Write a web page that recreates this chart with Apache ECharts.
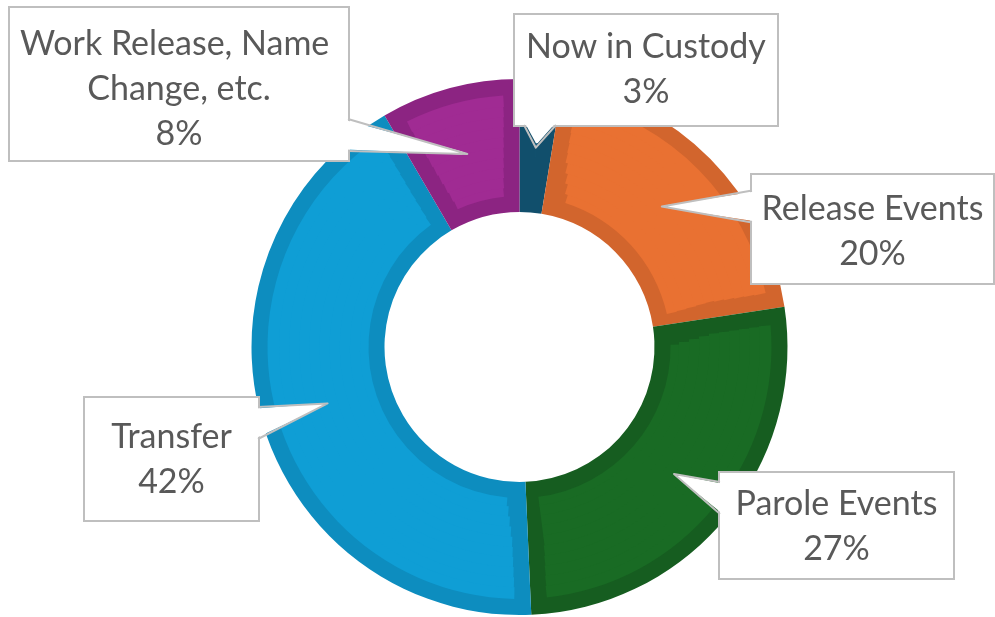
<!DOCTYPE html>
<html><head><meta charset="utf-8">
<script src="https://cdn.jsdelivr.net/npm/echarts@6/dist/echarts.min.js"></script>
<style>html,body{margin:0;padding:0;background:#fff}#c{width:995px;height:617px}</style>
</head><body><div id="c"></div>
<script>
// ---- data ----
const categories = ['Now in Custody', 'Release Events', 'Parole Events', 'Transfer', 'Work Release, Name Change, etc.'];
const values = [2.6, 20.0, 26.7, 42.3, 8.4];

// ---- styles ----
const mainColors = ['#156082', '#e97132', '#196b24', '#0f9ed5', '#a02b93'];
const edgeColors = ['#114f6c', '#d2652d', '#165d20', '#0d8dbf', '#8c2482'];
const CENTER = [519.5, 347];
const R_IN = 135, R_OUT = 268, BEVEL = 16;
// label boxes: [left, top, width, height, padTop, lines]
const boxes = [
  [515, 15, 262, 110, 10, 2],
  [752, 175, 241, 108, 12, 2],
  [720, 473, 233, 105, 9, 2],
  [85, 398, 173, 122, 17, 2],
  [10, 8, 338, 152, 14, 3]
];
const LINE_H = 45, TIP_R = 200;
const FONT = 'Lato';

const total = values.reduce((a, b) => a + b, 0);
function midAngle(i) {
  let s = 0;
  for (let k = 0; k < i; k++) s += values[k];
  return (s + values[i] / 2) / total * 2 * Math.PI;
}
function tipPoint(i) {
  const a = midAngle(i);
  return [CENTER[0] + TIP_R * Math.sin(a), CENTER[1] - TIP_R * Math.cos(a)];
}
function wedgeBase(b, t) {
  const [L, T, W, H] = b, half = 16, m = 25;
  const clamp = (v, lo, hi) => Math.max(lo, Math.min(hi, v));
  if (t[0] > L + W) { const c = clamp(t[1], T + m, T + H - m); return { p1: [L + W, c - half], p2: [L + W, c + half], n: [-1, 0] }; }
  if (t[0] < L) { const c = clamp(t[1], T + m, T + H - m); return { p1: [L, c - half], p2: [L, c + half], n: [1, 0] }; }
  if (t[1] > T + H) { const c = clamp(t[0], L + m, L + W - m); return { p1: [c - half, T + H], p2: [c + half, T + H], n: [0, -1] }; }
  const c = clamp(t[0], L + m, L + W - m); return { p1: [c - half, T], p2: [c + half, T], n: [0, 1] };
}
function boxPos(i) {
  const b = boxes[i];
  return { x: b[0] + b[2] / 2, y: b[1], align: 'center', verticalAlign: 'top' };
}
function pieData(extra) {
  return categories.map((n, i) => Object.assign({ name: n, value: values[i] }, extra ? extra(i) : {}));
}

const series = [];
// dark base ring (bevel edge colour)
series.push({
  type: 'pie', center: CENTER, radius: [R_IN, R_OUT], startAngle: 90, clockwise: true, silent: true, z: 1,
  label: { show: false }, labelLine: { show: false }, emphasis: { disabled: true },
  itemStyle: { color: p => edgeColors[p.dataIndex], borderWidth: 0 },
  data: pieData()
});
// inner faces (main colour), split into thin bands so the bevel keeps a near-constant width
const NB = 10, rA = R_IN + BEVEL, rB = R_OUT - BEVEL;
for (let k = 0; k < NB; k++) {
  const r0 = rA + (rB - rA) * k / NB, r1 = rA + (rB - rA) * (k + 1) / NB;
  series.push({
    type: 'pie', center: CENTER, radius: [k === 0 ? r0 : r0 - 1.5, r1], startAngle: 90, clockwise: true, silent: true, z: 2,
    padAngle: (2 * BEVEL) / ((r0 + r1) / 2) * 180 / Math.PI,
    label: { show: false }, labelLine: { show: false }, emphasis: { disabled: true },
    itemStyle: { color: p => mainColors[p.dataIndex], borderWidth: 0 },
    data: pieData()
  });
}
// callout boxes
series.push({
  type: 'pie', center: CENTER, radius: [R_IN, R_OUT], startAngle: 90, clockwise: true, silent: true, z: 5,
  avoidLabelOverlap: false, emphasis: { disabled: true },
  itemStyle: { color: 'rgba(0,0,0,0)' },
  label: {
    show: true, position: 'outside', color: '#595959', fontFamily: FONT, fontSize: 34, lineHeight: LINE_H,
    backgroundColor: '#ffffff', borderColor: '#bfbfbf', borderWidth: 2, overflow: 'break', align: 'center',
    formatter: p => p.name + '\n' + Math.round(p.percent) + '%'
  },
  labelLine: { show: false },
  labelLayout: p => boxPos(p.dataIndex),
  data: pieData(i => {
    const b = boxes[i];
    const pb = b[3] - b[4] - b[5] * LINE_H;
    return { label: { width: b[2], padding: [b[4], 0, pb, 0] } };
  })
});
// white fill of the callout pointers
series.push({
  type: 'pie', center: CENTER, radius: [R_IN, R_OUT], startAngle: 90, clockwise: true, silent: true, z: 6,
  avoidLabelOverlap: false, emphasis: { disabled: true },
  itemStyle: { color: 'rgba(0,0,0,0)' },
  label: { show: true, position: 'outside', formatter: () => ' ', fontSize: 4 },
  labelLine: { show: true, minTurnAngle: 0, maxSurfaceAngle: 180, lineStyle: { color: '#ffffff', width: 3, join: 'round', cap: 'round' } },
  labelLayout: p => {
    const i = p.dataIndex, t = tipPoint(i), w = wedgeBase(boxes[i], t);
    const mid = [(w.p1[0] + w.p2[0]) / 2, (w.p1[1] + w.p2[1]) / 2];
    const d = Math.hypot(mid[0] - t[0], mid[1] - t[1]);
    const ti = [t[0] + (mid[0] - t[0]) * 6 / d, t[1] + (mid[1] - t[1]) * 6 / d];
    const pts = [];
    const N = 16;
    for (let k = 0; k <= N; k++) {
      const f = 0.09 + 0.82 * k / N;
      pts.push([w.p1[0] + (w.p2[0] - w.p1[0]) * f + w.n[0] * 1.5, w.p1[1] + (w.p2[1] - w.p1[1]) * f + w.n[1] * 1.5]);
      pts.push(ti);
    }
    return { x: mid[0], y: mid[1], labelLinePoints: pts };
  },
  data: pieData()
});
// grey outline of the callout pointers
series.push({
  type: 'pie', center: CENTER, radius: [R_IN, R_OUT], startAngle: 90, clockwise: true, silent: true, z: 7,
  avoidLabelOverlap: false, emphasis: { disabled: true },
  itemStyle: { color: 'rgba(0,0,0,0)' },
  label: { show: true, position: 'outside', formatter: () => ' ', fontSize: 4 },
  labelLine: { show: true, minTurnAngle: 0, maxSurfaceAngle: 180, lineStyle: { color: '#bfbfbf', width: 2, join: 'round' } },
  labelLayout: p => {
    const i = p.dataIndex, t = tipPoint(i), w = wedgeBase(boxes[i], t);
    const mid = [(w.p1[0] + w.p2[0]) / 2, (w.p1[1] + w.p2[1]) / 2];
    return { x: mid[0], y: mid[1], labelLinePoints: [w.p1, t, w.p2] };
  },
  data: pieData()
});

const chart = echarts.init(document.getElementById('c'), null, { renderer: 'canvas' });
chart.setOption({ animation: false, backgroundColor: '#ffffff', series: series });
</script>
</body></html>
